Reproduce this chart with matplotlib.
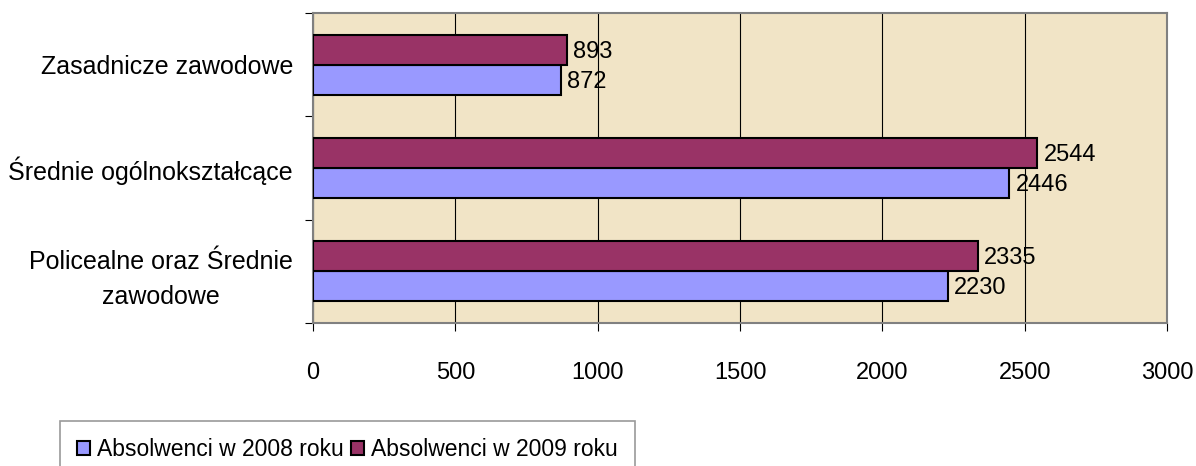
import matplotlib
matplotlib.use("Agg")
import matplotlib.pyplot as plt
import numpy as np

categories = ["Policealne oraz Średnie\nzawodowe", "Średnie ogólnokształcące", "Zasadnicze zawodowe"]
abs_2008 = [2230, 2446, 872]
abs_2009 = [2335, 2544, 893]
series_names = ["Absolwenci w 2008 roku", "Absolwenci w 2009 roku"]

plt.rcParams['font.family'] = ['Liberation Sans', 'DejaVu Sans']

fig = plt.figure(figsize=(11.96, 4.66), dpi=100)
ax = fig.add_axes([313/1196, 1 - 323/466, (1167 - 313)/1196, (323 - 13)/466])
ax.set_facecolor('#f1e4c6')

y = np.arange(len(categories))
h = 0.29
b08 = ax.barh(y - h/2, abs_2008, height=h, color='#9999ff', edgecolor='black', linewidth=1.5, label=series_names[0], zorder=3)
b09 = ax.barh(y + h/2, abs_2009, height=h, color='#993366', edgecolor='black', linewidth=1.5, label=series_names[1], zorder=3)

for bars, vals in [(b08, abs_2008), (b09, abs_2009)]:
    for bar, v in zip(bars, vals):
        ax.text(v + 22, bar.get_y() + bar.get_height()/2 - 0.02, str(v), va='center', ha='left', fontsize=17, zorder=4)

ax.set_xlim(0, 3000)
ax.set_ylim(-0.5, 2.5)
ax.set_xticks(np.arange(0, 3001, 500))
ax.tick_params(axis='x', labelsize=17, pad=22, length=6, direction='out')
ax.set_yticks([-0.5, 0.5, 1.5, 2.5], minor=False)
ax.set_yticklabels([])
ax.set_yticks(y, minor=True)
ax.set_yticklabels(categories, minor=True, fontsize=18, multialignment='center', linespacing=1.6)
ax.tick_params(axis='y', which='minor', length=0, pad=14.4)
ax.tick_params(axis='y', which='major', length=6)
ax.xaxis.grid(True, color='black', linewidth=0.8, zorder=1)
for s in ax.spines.values():
    s.set_color('#808080')
    s.set_linewidth(1.5)

leg = fig.legend(loc='upper left', bbox_to_anchor=(60/1196, 1 - 421/466), ncol=2, fontsize=16.5,
                 frameon=True, fancybox=False, edgecolor='#808080', handlelength=0.55, handleheight=0.6,
                 handletextpad=0.3, columnspacing=0.35, borderpad=0.75, borderaxespad=0)
leg.get_frame().set_linewidth(1.2)

fig.savefig('out.png', dpi=100)
